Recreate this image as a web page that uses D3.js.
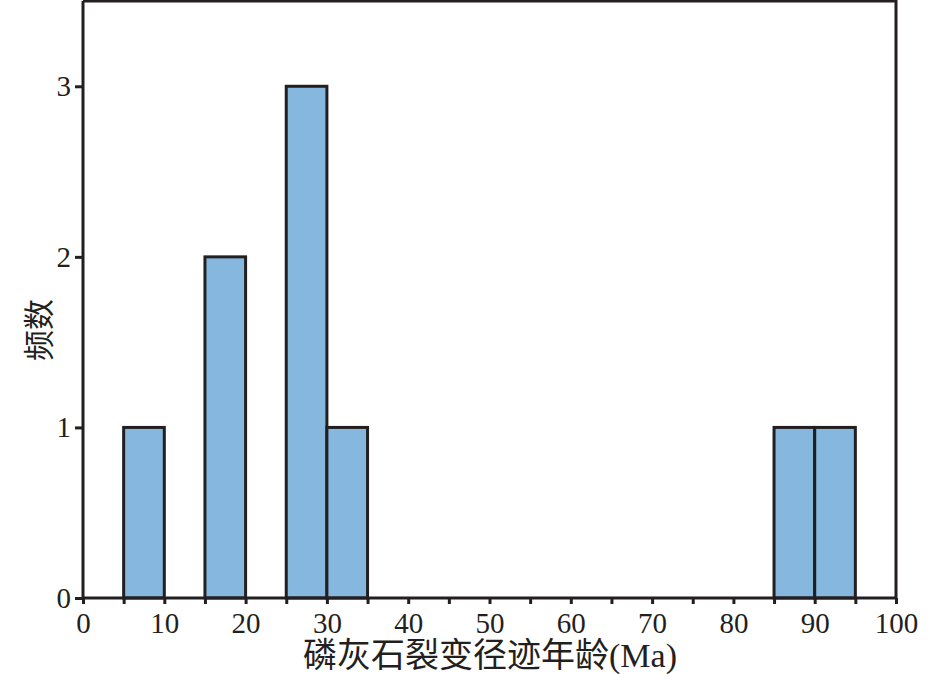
<!DOCTYPE html>
<html>
<head>
<meta charset="utf-8">
<script src="https://cdn.jsdelivr.net/npm/d3@7"></script>
<style>
  body { margin: 0; background: #fff; }
  .axis text { font-family: "Liberation Serif", "DejaVu Serif", serif; font-size: 29px; fill: #231f20; }
  .axis path, .axis line { stroke: #231f20; stroke-width: 3; }
</style>
</head>
<body>
<div id="chart"></div>
<script>
// histogram bins (Ma) and counts
var binStart = [5, 15, 25, 30, 85, 90];
var binEnd = [10, 20, 30, 35, 90, 95];
var counts = [1, 2, 3, 1, 1, 1];

var xTicks = [0, 5, 10, 15, 20, 25, 30, 35, 40, 45, 50, 55, 60, 65, 70, 75, 80, 85, 90, 95, 100];
var yTicks = [0, 1, 2, 3];
var xTitle = "磷灰石裂变径迹年龄(Ma)";
var yTitle = "频数";

var W = 945, H = 674;
var margin = {top: 1, right: 49, bottom: 76, left: 83};
var width = W - margin.left - margin.right;
var height = H - margin.top - margin.bottom;

var svg = d3.select("#chart").append("svg")
    .attr("width", W)
    .attr("height", H);

var g = svg.append("g")
    .attr("transform", "translate(" + margin.left + "," + margin.top + ")");

var x = d3.scaleLinear().domain([0, 100]).range([0, width]);
var y = d3.scaleLinear().domain([0, 3.5]).range([height, 0]);

// bars
var bins = counts.map(function(c, i) { return {x0: binStart[i], x1: binEnd[i], n: c}; });
g.selectAll(".bar")
    .data(bins)
    .enter().append("rect")
    .attr("class", "bar")
    .attr("x", function(d) { return x(d.x0); })
    .attr("width", function(d) { return x(d.x1) - x(d.x0); })
    .attr("y", function(d) { return y(d.n); })
    .attr("height", function(d) { return y(0) - y(d.n); })
    .style("fill", "#86b7de")
    .style("stroke", "#231f20")
    .style("stroke-width", 3);

// frame (top + right)
g.append("path")
    .attr("d", "M0,0H" + width + "V" + height)
    .style("fill", "none")
    .style("stroke", "#231f20")
    .style("stroke-width", 3);

// x axis
var xAxis = d3.axisBottom(x)
    .tickValues(xTicks)
    .tickSize(6)
    .tickSizeOuter(0)
    .tickPadding(8)
    .tickFormat(function(d) { return d % 10 === 0 ? d : ""; });

g.append("g")
    .attr("class", "axis")
    .attr("transform", "translate(0," + height + ")")
    .call(xAxis);

// y axis
var yAxis = d3.axisLeft(y)
    .tickValues(yTicks)
    .tickSize(8)
    .tickSizeOuter(0)
    .tickPadding(4)
    .tickFormat(d3.format("d"));

g.append("g")
    .attr("class", "axis")
    .call(yAxis);

g.selectAll(".axis .domain").attr("d", function() {
    return d3.select(this.parentNode).attr("transform") ? "M0,0H" + width : "M0," + height + "V0";
});

// titles
svg.append("text")
    .attr("x", 490)
    .attr("y", 667)
    .attr("text-anchor", "middle")
    .style("font-family", "'Liberation Serif', 'Noto Sans CJK SC', serif")
    .style("font-size", "34px")
    .style("fill", "#231f20")
    .text(xTitle);

svg.append("text")
    .attr("transform", "translate(50,330) rotate(-90)")
    .attr("text-anchor", "middle")
    .style("font-family", "'Noto Sans CJK SC', sans-serif")
    .style("font-size", "31px")
    .style("fill", "#231f20")
    .text(yTitle);
</script>
</body>
</html>
